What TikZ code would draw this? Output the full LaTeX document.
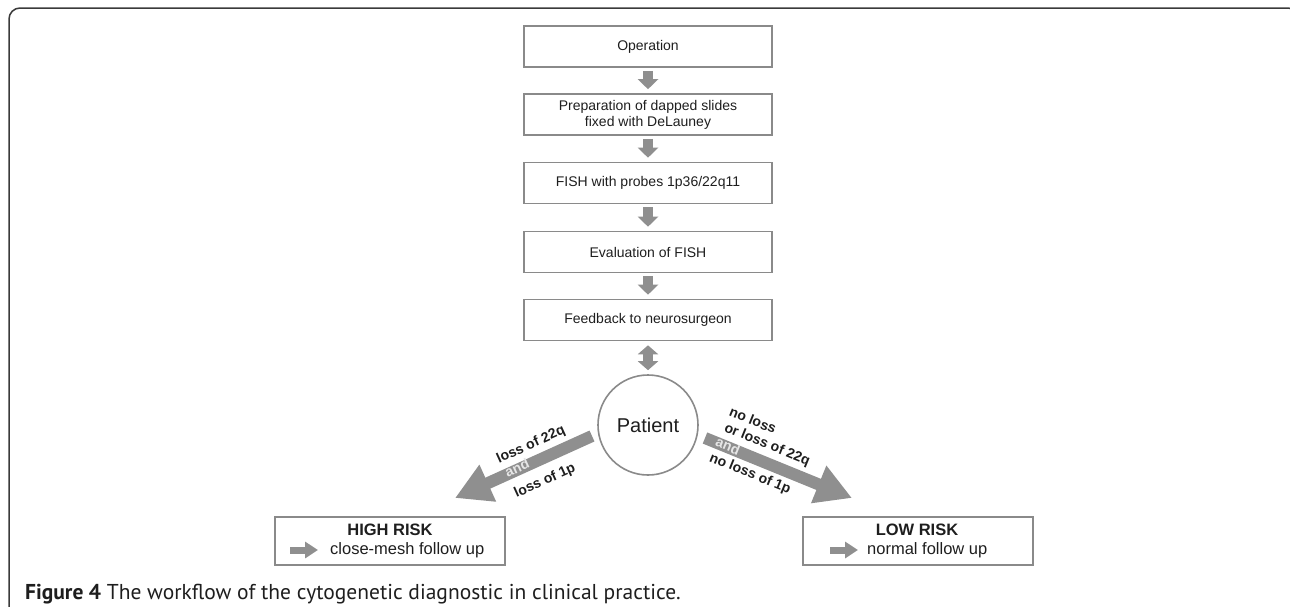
\documentclass[tikz,border=0pt]{standalone}
\usepackage{fontspec}
\setmainfont{Liberation Sans}
\newfontfamily\capfont{PT Sans}
\usetikzlibrary{arrows.meta}
\definecolor{boxgray}{HTML}{8A8A8A}
\definecolor{arrgray}{HTML}{8F8F8F}
\definecolor{txt}{HTML}{1E1E1E}
\definecolor{framecol}{HTML}{3A3A3A}
\definecolor{andcol}{HTML}{E6E6E6}
\begin{document}
\begin{tikzpicture}[x=1pt,y=-1pt,
  flowbox/.style={draw=boxgray, line width=1.6pt, minimum width=248pt, minimum height=41pt,
    inner sep=0pt, font=\fontsize{14}{16}\selectfont, text=txt, align=center},
  riskbox/.style={draw=boxgray, line width=1.6pt, minimum width=230pt, minimum height=48pt, inner sep=0pt},
  varrow/.style={draw=arrgray, line width=10pt, -{Triangle[length=10pt,width=20pt]}},
  dblarrow/.style={draw=arrgray, line width=10pt, {Triangle[length=9pt,width=20pt]}-{Triangle[length=9pt,width=20pt]}},
  bigarrow/.style={draw=arrgray, line width=12pt, -{Triangle[length=36pt,width=38pt]}},
  smallarrow/.style={draw=arrgray, line width=7pt, -{Triangle[length=13pt,width=16pt]}},
  lbl/.style={font=\fontsize{14}{16}\selectfont\bfseries, text=txt, inner sep=0pt},
  andlbl/.style={font=\fontsize{14}{16}\selectfont\bfseries, text=andcol, inner sep=0pt},
  risktitle/.style={font=\fontsize{16.5}{19}\selectfont\bfseries, text=txt, inner sep=0pt},
  risktext/.style={font=\fontsize{16.5}{19}\selectfont, text=txt, inner sep=0pt}
]
\useasboundingbox (0,0) rectangle (1290,606);
% frame
\draw[framecol, line width=1.5pt, rounded corners=11pt] (9,620) -- (9,8) -- (1299,8) -- (1299,60);

% flow boxes
\node[flowbox] (op) at (648,46.5) {Operation};
\node[flowbox] (prep) at (648,114.5) {Preparation of dapped slides\\fixed with DeLauney};
\node[flowbox] (fish) at (648,183) {FISH with probes 1p36/22q11};
\node[flowbox] (eval) at (648,252) {Evaluation of FISH};
\node[flowbox] (feed) at (648,320) {Feedback to neurosurgeon};
\node[draw=boxgray, line width=1.6pt, circle, minimum size=100pt, inner sep=0pt,
  font=\fontsize{20}{22}\selectfont, text=txt] (patient) at (648,425) {Patient};

\draw[varrow, shorten <=3pt, shorten >=4pt] (op) -- (prep);
\draw[varrow, shorten <=3pt, shorten >=4pt] (prep) -- (fish);
\draw[varrow, shorten <=3pt, shorten >=4pt] (fish) -- (eval);
\draw[varrow, shorten <=3pt, shorten >=4pt] (eval) -- (feed);
\draw[dblarrow, shorten <=4pt, shorten >=4pt] (feed) -- (patient);

% diagonal arrows
\coordinate (ltail) at (592,436);
\coordinate (ltip) at (455,498);
\coordinate (rtail) at (705,438);
\coordinate (rtip) at (852,498);
\draw[bigarrow] (ltail) -- (ltip);
\draw[bigarrow] (rtail) -- (rtip);

\node[lbl, rotate=24.4] (l22) at (531,445) {loss of 22q};
\node[andlbl, rotate=24.4] (land) at (517,468) {and};
\node[lbl, rotate=24.4] (l1p) at (545,481) {loss of 1p};

\node[lbl, rotate=-22.2] (rno) at (753,420) {no loss};
\node[lbl, rotate=-22.2] (r22) at (767,445) {or loss of 22q};
\node[andlbl, rotate=-22.2] (rand) at (728,446) {and};
\node[lbl, rotate=-22.2] (r1p) at (750,474) {no loss of 1p};

% risk boxes
\node[riskbox] (high) at (390,541) {};
\node[risktitle] (hight) at (390,530) {HIGH RISK};
\coordinate (ha1) at (290,550);
\coordinate (ha2) at (318,550);
\draw[smallarrow] (ha1) -- (ha2);
\node[risktext, anchor=west] (highs) at (330,550) {close-mesh follow up};

\node[riskbox] (low) at (918,541) {};
\node[risktitle] (lowt) at (917,530) {LOW RISK};
\coordinate (la1) at (830,550);
\coordinate (la2) at (858,550);
\draw[smallarrow] (la1) -- (la2);
\node[risktext, anchor=west] (lows) at (867,550) {normal follow up};

% caption
\node[anchor=base west, inner sep=0pt, font=\capfont\fontsize{21.5}{24}\selectfont, text=txt] (cap) at (25,599)
  {\textbf{Figure 4} The workflow of the cytogenetic diagnostic in clinical practice.};
\end{tikzpicture}
\end{document}
